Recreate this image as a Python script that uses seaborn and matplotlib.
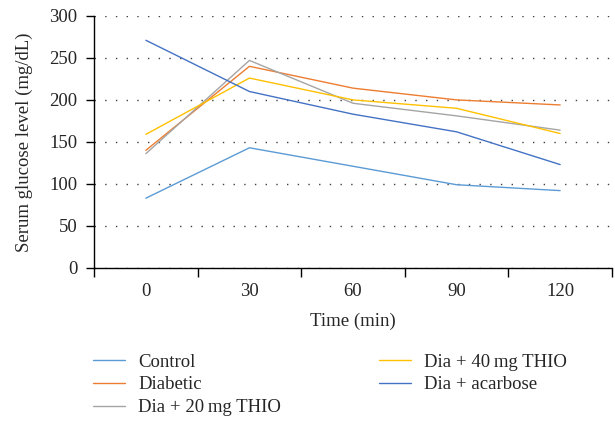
import pandas as pd
import numpy as np
import matplotlib
matplotlib.use('Agg')
import matplotlib.pyplot as plt
import seaborn as sns
from matplotlib.ticker import FixedLocator

times = ['0', '30', '60', '90', '120']
groups = ['Control', 'Diabetic', 'Dia + 20\u2009mg THIO', 'Dia + 40\u2009mg THIO', 'Dia + acarbose']
control = [83, 143, 121, 99, 92]
diabetic = [140, 240, 214, 200, 194]
dia_20 = [136, 247, 196, 181, 164]
dia_40 = [159, 226, 200, 190, 160]
acarbose = [271, 210, 183, 162, 123]
colors = ['#5B9BD5', '#ED7D31', '#A5A5A5', '#FFC000', '#4472C4']

series = [control, diabetic, dia_20, dia_40, acarbose]
rows = []
for g, vals in zip(groups, series):
    for t, v in zip(times, vals):
        rows.append({'Time': t, 'Group': g, 'Glucose': v})
df = pd.DataFrame(rows)

sns.set_style('white')
plt.rcParams['font.family'] = ['Liberation Serif', 'DejaVu Serif']
plt.rcParams['font.size'] = 13.5

fig = plt.figure(figsize=(6.15, 4.3), dpi=100)
ax = fig.add_axes([0.153, 0.377, 0.842, 0.586])

sns.lineplot(data=df, x='Time', y='Glucose', hue='Group', hue_order=groups,
             palette=colors, linewidth=1.0, sort=False, ax=ax)

ax.set_xlim(-0.5, 4.5)
ax.set_ylim(0, 300)
ax.set_yticks(np.arange(0, 301, 50))
ax.yaxis.grid(True, color='#404040', linestyle=(0, (1, 6.7)), linewidth=1.0)
ax.xaxis.grid(False)
for s in ['top', 'right']:
    ax.spines[s].set_visible(False)
for s in ['left', 'bottom']:
    ax.spines[s].set_color('black')
    ax.spines[s].set_linewidth(1.0)

ax.xaxis.set_minor_locator(FixedLocator(np.arange(-0.5, 4.6, 1)))
ax.tick_params(axis='x', which='major', length=0, pad=11, labelsize=13.5)
ax.tick_params(axis='x', which='minor', length=6.5, width=1, color='black', direction='out', bottom=True)
ax.tick_params(axis='y', which='major', length=6, width=1, color='black', direction='out', left=True,
               labelsize=13.5, pad=6)

ax.set_xlabel('Time (min)', fontsize=13.5, labelpad=9)
ax.set_ylabel('Serum glucose level (mg/dL)', fontsize=13.5, labelpad=12)

ax.legend(loc='upper left', bbox_to_anchor=(-0.016, -0.31), ncol=2, frameon=False,
          fontsize=13.5, handlelength=1.7, columnspacing=5.2, labelspacing=0.3,
          handletextpad=0.7, borderaxespad=0)

fig.savefig('out.png', dpi=100)
